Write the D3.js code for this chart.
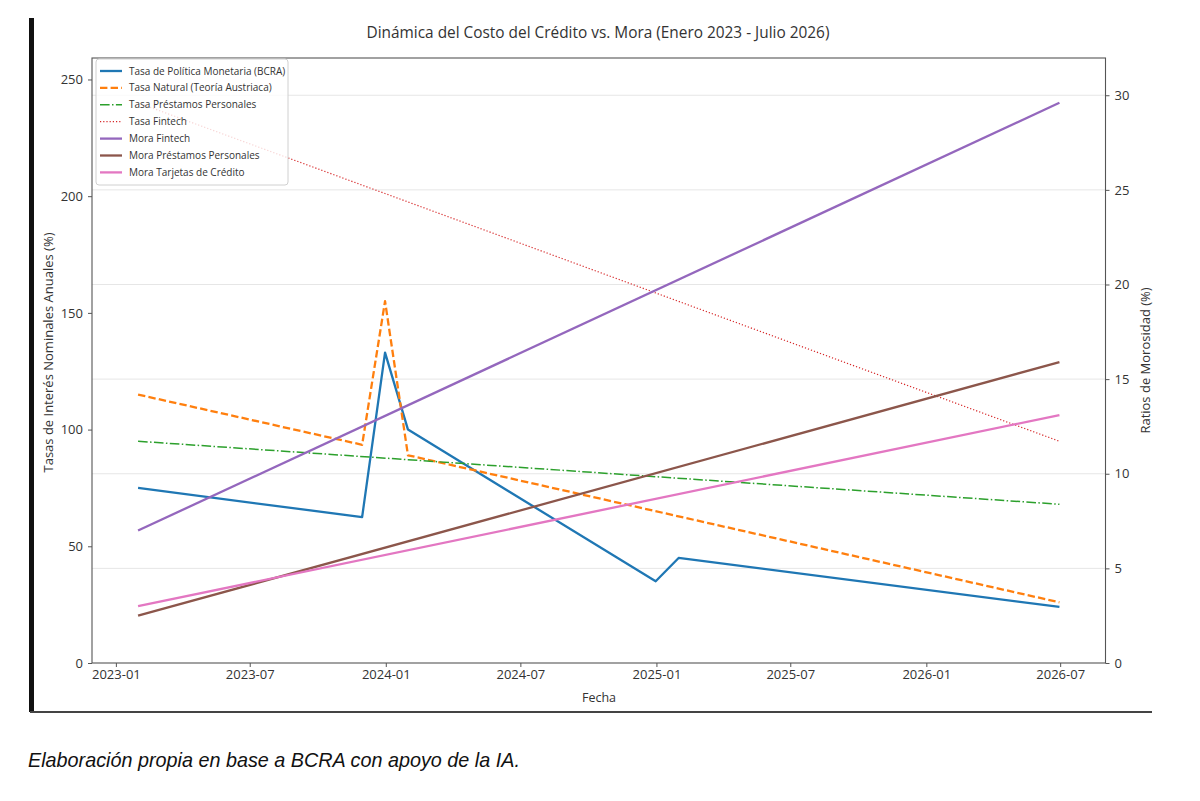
<!DOCTYPE html>
<html>
<head>
<meta charset="utf-8">
<script src="https://cdn.jsdelivr.net/npm/d3@7"></script>
<style>
  html, body { margin: 0; padding: 0; background: #fff; }
  svg { display: block; }
</style>
</head>
<body>
<svg id="chart" width="1200" height="801"></svg>
<script>
// ---------- DATA ----------
const title = "Dinámica del Costo del Crédito vs. Mora (Enero 2023 - Julio 2026)";
const xLabel = "Fecha";
const yLeftLabel = "Tasas de Interés Nominales Anuales (%)";
const yRightLabel = "Ratios de Morosidad (%)";
const caption = "Elaboración propia en base a BCRA con apoyo de la IA.";

const bcraDates = ["2023-01-31", "2023-11-30", "2023-12-31", "2024-01-31", "2024-12-31", "2025-01-31", "2026-06-30"];
const bcraValues = [75, 62.5, 133, 100, 35, 45, 24];

const naturalDates = ["2023-01-31", "2023-11-30", "2023-12-31", "2024-01-31", "2026-06-30"];
const naturalValues = [115, 93.5, 155, 89, 26];

const spanDates = ["2023-01-31", "2026-06-30"];
const prestamosValues = [95, 68];
const fintechRateValues = [240, 95];
const moraFintechValues = [7, 29.6];
const moraPrestamosValues = [2.5, 15.9];
const moraTarjetasValues = [3, 13.1];

const leftTicks = [0, 50, 100, 150, 200, 250];
const rightTicks = [0, 5, 10, 15, 20, 25, 30];
const xTickDates = ["2023-01-01", "2023-07-01", "2024-01-01", "2024-07-01", "2025-01-01", "2025-07-01", "2026-01-01", "2026-07-01"];

const seriesNames = [
  "Tasa de Política Monetaria (BCRA)",
  "Tasa Natural (Teoría Austriaca)",
  "Tasa Préstamos Personales",
  "Tasa Fintech",
  "Mora Fintech",
  "Mora Préstamos Personales",
  "Mora Tarjetas de Crédito"
];

// ---------- STYLE ----------
const parse = d3.timeParse("%Y-%m-%d");
const series = [
  { name: seriesNames[0], dates: bcraDates, values: bcraValues, axis: "L", color: "#1f77b4", w: 2.3, dash: null },
  { name: seriesNames[1], dates: naturalDates, values: naturalValues, axis: "L", color: "#ff7f0e", w: 2.3, dash: "7.4,3.2" },
  { name: seriesNames[2], dates: spanDates, values: prestamosValues, axis: "L", color: "#2ca02c", w: 1.5, dash: "9.6,2.4,1.5,2.4" },
  { name: seriesNames[3], dates: spanDates, values: fintechRateValues, axis: "L", color: "#d62728", w: 1.2, dash: "1.2,2" },
  { name: seriesNames[4], dates: spanDates, values: moraFintechValues, axis: "R", color: "#9467bd", w: 2.3, dash: null },
  { name: seriesNames[5], dates: spanDates, values: moraPrestamosValues, axis: "R", color: "#8c564b", w: 2.3, dash: null },
  { name: seriesNames[6], dates: spanDates, values: moraTarjetasValues, axis: "R", color: "#e377c2", w: 2.3, dash: null }
];

const FONT = "'Open Sans', 'DejaVu Sans', sans-serif";
const TXT = "#333";
const M = { left: 92, right: 1105.5, top: 58, bottom: 663 };

const svg = d3.select("#chart");

// page decorations (screenshot frame)
svg.append("rect").attr("x", 29).attr("y", 18).attr("width", 5).attr("height", 694).attr("fill", "#111");
svg.append("line").attr("x1", 30).attr("x2", 1152).attr("y1", 712).attr("y2", 712)
  .attr("stroke", "#444").attr("stroke-width", 2);

// scales
const allDates = series.flatMap(s => s.dates.map(parse));
const [d0, d1] = d3.extent(allDates);
const pad = (d1 - d0) * 0.05;
const x = d3.scaleTime().domain([new Date(+d0 - pad), new Date(+d1 + pad)]).range([M.left, M.right]);

const leftMax = d3.max(series.filter(s => s.axis === "L").flatMap(s => s.values)) * 1.08;
const rightMax = d3.max(series.filter(s => s.axis === "R").flatMap(s => s.values)) * 1.08;
const yL = d3.scaleLinear().domain([0, leftMax]).range([M.bottom, M.top]);
const yR = d3.scaleLinear().domain([0, rightMax]).range([M.bottom, M.top]);

// grid (right axis)
svg.append("g").selectAll("line").data(rightTicks.filter(t => t > 0)).join("line")
  .attr("x1", M.left).attr("x2", M.right)
  .attr("y1", d => yR(d)).attr("y2", d => yR(d))
  .attr("stroke", "#e6e6e6").attr("stroke-width", 1);

// lines
const plot = svg.append("g");
series.forEach(s => {
  const pts = s.dates.map((d, i) => [parse(d), s.values[i]]);
  const ys = s.axis === "L" ? yL : yR;
  const line = d3.line().x(d => x(d[0])).y(d => ys(d[1]));
  plot.append("path").datum(pts)
    .attr("d", line)
    .attr("fill", "none")
    .attr("stroke", s.color)
    .attr("stroke-width", s.w)
    .attr("stroke-linejoin", "round")
    .attr("stroke-dasharray", s.dash);
});

// spines
svg.append("rect").attr("x", M.left).attr("y", M.top)
  .attr("width", M.right - M.left).attr("height", M.bottom - M.top)
  .attr("fill", "none").attr("stroke", "#555").attr("stroke-width", 1.1);

// axes
const styleAxis = g => {
  g.select(".domain").remove();
  g.selectAll(".tick line").attr("stroke", "#555");
  g.selectAll(".tick text").attr("fill", TXT).style("font-family", FONT).style("font-size", "13px");
};

svg.append("g").attr("transform", `translate(0,${M.bottom})`)
  .call(d3.axisBottom(x).tickValues(xTickDates.map(parse)).tickFormat(d3.timeFormat("%Y-%m")).tickSize(4).tickPadding(3))
  .call(styleAxis);

svg.append("g").attr("transform", `translate(${M.left},0)`)
  .call(d3.axisLeft(yL).tickValues(leftTicks).tickSize(4).tickPadding(5))
  .call(styleAxis);

svg.append("g").attr("transform", `translate(${M.right},0)`)
  .call(d3.axisRight(yR).tickValues(rightTicks).tickSize(4).tickPadding(5))
  .call(styleAxis);

// labels
svg.append("text").attr("x", 598).attr("y", 38)
  .attr("text-anchor", "middle").attr("fill", TXT)
  .style("font-family", FONT).style("font-size", "15.4px").text(title);

svg.append("text").attr("x", 599).attr("y", 702)
  .attr("text-anchor", "middle").attr("fill", TXT)
  .style("font-family", FONT).style("font-size", "12.5px").text(xLabel);

svg.append("text").attr("transform", `translate(53,${(M.top + M.bottom) / 2 - 8}) rotate(-90)`)
  .attr("text-anchor", "middle").attr("fill", TXT)
  .style("font-family", FONT).style("font-size", "13px").text(yLeftLabel);

svg.append("text").attr("transform", `translate(1150,${(M.top + M.bottom) / 2}) rotate(-90)`)
  .attr("text-anchor", "middle").attr("fill", TXT)
  .style("font-family", FONT).style("font-size", "13px").text(yRightLabel);

// legend
const lg = svg.append("g").attr("transform", "translate(96,59)");
lg.append("rect").attr("x", 0).attr("y", 0).attr("width", 192).attr("height", 126)
  .attr("rx", 3).attr("fill", "#fff").attr("fill-opacity", 0.8)
  .attr("stroke", "#d0d0d0").attr("stroke-width", 1);
series.forEach((s, i) => {
  const yy = 12 + i * 16.9;
  lg.append("line").attr("x1", 4).attr("x2", 26).attr("y1", yy).attr("y2", yy)
    .attr("stroke", s.color).attr("stroke-width", s.w).attr("stroke-dasharray", s.dash);
  lg.append("text").attr("x", 33).attr("y", yy + 3.5).attr("fill", TXT)
    .style("font-family", FONT).style("font-size", "10px").text(s.name);
});

// caption
svg.append("text").attr("x", 28).attr("y", 767).attr("fill", "#111")
  .style("font-family", "'Liberation Sans', Arial, sans-serif").style("font-style", "italic")
  .style("font-size", "19.8px").text(caption);
</script>
</body>
</html>
